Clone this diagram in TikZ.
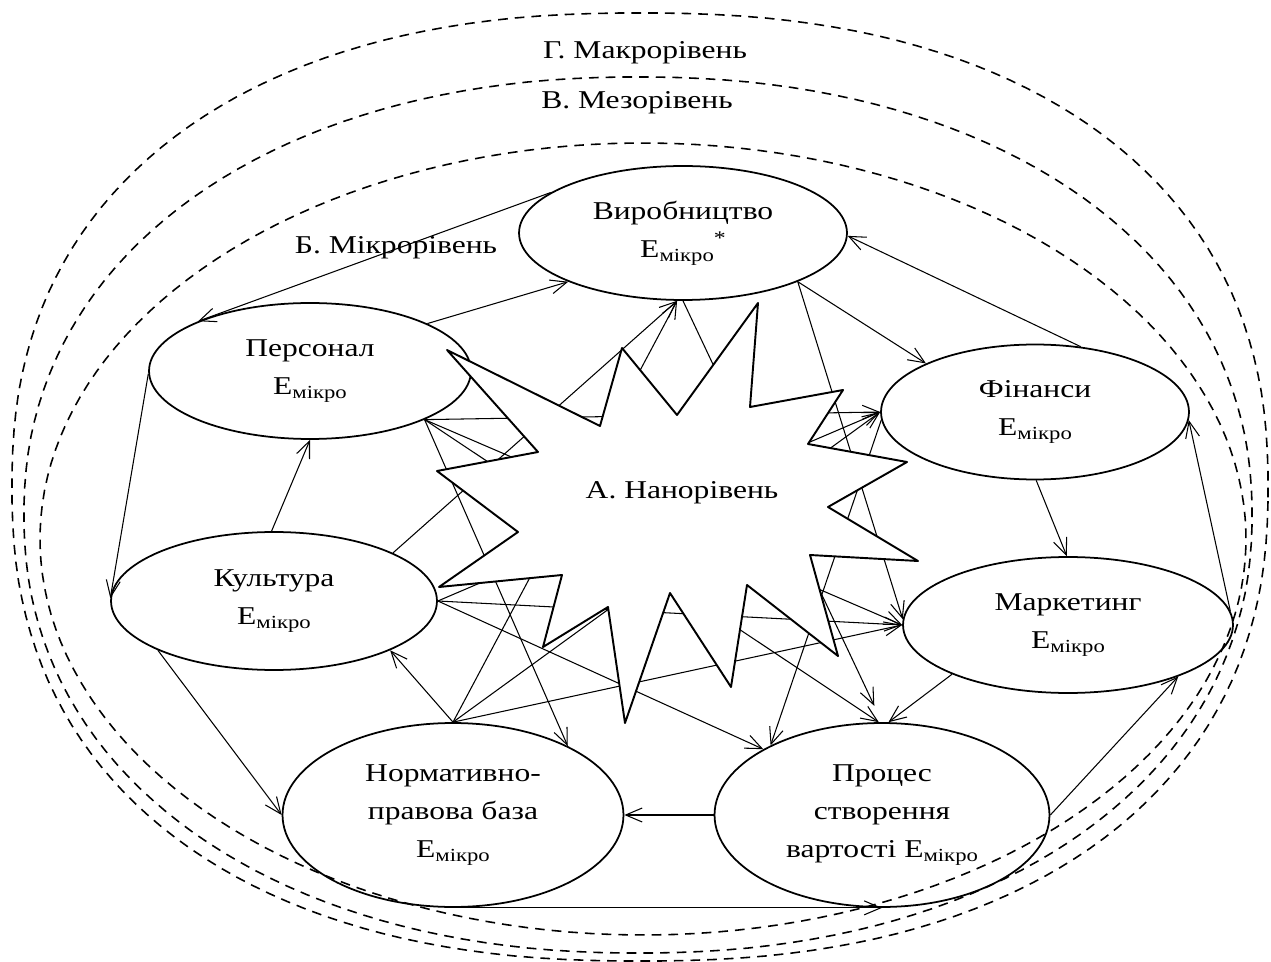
\documentclass[tikz,border=0pt]{standalone}
\usepackage{fontspec}
\setmainfont{Liberation Serif}[FakeStretch=1.23]
\usetikzlibrary{arrows.meta, shapes.geometric}
\newcommand{\emicro}{Е\raisebox{-0.35ex}{\fontsize{10.5}{12}\selectfont мікро}}
\tikzset{
  every picture/.style={line width=0.6pt},
  every node/.append style={font=\fontsize{14.6}{21.6}\selectfont},
  ell/.style={ellipse, draw, line width=1pt, inner sep=0pt, align=center},
  link/.style={-{Straight Barb[length=3.3mm, width=2.8mm]}, line width=0.6pt},
  level/.style={dash pattern=on 5.5pt off 4pt, line width=0.9pt},
  nanostar/.style={draw, fill=white, line width=1.1pt, line join=round},
}
\begin{document}
\begin{tikzpicture}[x=0.02cm, y=-0.02cm]
  \useasboundingbox (0,0) rectangle (1271,962);
  % ---------- the three dashed levels
  \foreach \cx/\cy/\a/\b/\e in {640/487/628/474/0.87, 638/515/614/438/0.93, 643/539/603/396/1.0}
    \draw[level] plot[domain=1:359, samples=180, variable=\t]
      ({\cx+\a*sign(cos(\t))*pow(abs(cos(\t)),\e)}, {\cy+\b*sign(sin(\t))*pow(abs(sin(\t)),\e)}) -- cycle;
  \node (macro) at (645,53) {Г. Макрорівень};
  \node (meso) at (637,103) {В. Мезорівень};
  \node (micro) at (396,248) {Б. Мікрорівень};
  % ---------- micro level units
  \node[ell, minimum width=6.56cm, minimum height=2.68cm] (vir) at (683,233)
    {Виробництво\\\emicro\raisebox{1.1ex}{\fontsize{11}{12}\selectfont*}};
  \node[ell, minimum width=6.44cm, minimum height=2.72cm] (pers) at (310,371) {Персонал\\\emicro};
  \node[ell, minimum width=6.16cm, minimum height=2.70cm] (fin) at (1035,412) {Фінанси\\\emicro};
  \node[ell, minimum width=6.52cm, minimum height=2.76cm] (kult) at (274,601) {Культура\\\emicro};
  \node[ell, minimum width=6.60cm, minimum height=2.72cm] (mark) at (1068,625) {Маркетинг\\\emicro};
  \node[ell, minimum width=6.82cm, minimum height=3.68cm] (norm) at (453,815) {Нормативно-\\правова база\\\emicro};
  \node[ell, minimum width=6.70cm, minimum height=3.68cm] (proc) at (882,815) {Процес\\створення\\вартості \emicro};
  % ---------- around the ring
  \draw[link] (vir.163) -- (pers.156);
  \draw[link] (pers.22) -- (vir.203);
  \draw[link] (fin.55) -- (vir.-1);
  \draw[link] (vir.-23) -- (fin.156);
  \draw[link] (fin.-89) -- (mark.91);
  \draw[link] (mark.5) -- (fin.-3);
  \draw[link] (pers.181) -- (kult.179);
  \draw[link] (kult.92) -- (pers.south);
  \draw[link] (kult.203) -- (norm.west);
  \draw[link] (mark.203) -- (proc.86);
  \draw[link] (proc.east) -- (mark.-25);
  \draw[link] (proc.west) -- (norm.east);
  \draw[link] (norm.south) -- (proc.south);
  \draw[link] (norm.north) -- (kult.-23);
  % ---------- links through the nano level
  \foreach \to in {fin.west, mark.west, proc.92, norm.31}
    \draw[link] (pers.-23) -- (\to);
  \foreach \to in {fin.west, mark.west, proc.151}
    \draw[link] (kult.east) -- (\to);
  \draw[link] (kult.22) -- (vir.-95);
  \foreach \to in {vir.-95, fin.west, mark.west}
    \draw[link] (norm.north) -- (\to);
  \draw[link] (vir.-23) -- (mark.178);
  \draw[link, shorten >=0.36cm] (vir.south) -- (proc.north);
  \draw[link] (fin.183) -- (proc.148);
  % ---------- nano level
  \draw[nanostar] (447,350) -- (600,426) -- (622,348) -- (677,415) -- (758,303) -- (750,407)
    -- (843,390) -- (808,444) -- (907,462) -- (828,507) -- (918,561) -- (810,555)
    -- (838,656) -- (747,585) -- (731,687) -- (670,593) -- (625,723) -- (608,607)
    -- (543,647) -- (562,575) -- (439,587) -- (518,532) -- (437,471) -- (538,452) -- cycle;
  \node (nano) at (682,493) {А. Нанорівень};
\end{tikzpicture}
\end{document}
